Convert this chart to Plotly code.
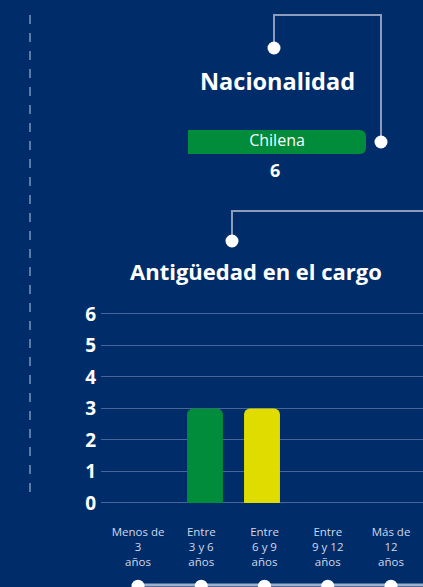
import plotly.graph_objects as go

# ---- data ----
nat_categories = ["Chilena"]
nat_values = [6]

tenure_categories = ["Menos de 3 años", "Entre 3 y 6 años", "Entre 6 y 9 años",
                     "Entre 9 y 12 años", "Más de 12 años"]
tenure_ticktext = ["Menos de<br>3<br>años", "Entre<br>3 y 6<br>años", "Entre<br>6 y 9<br>años",
                   "Entre<br>9 y 12<br>años", "Más de<br>12<br>años"]
tenure_values = [0, 3, 3, 0, 0]
tenure_colors = ["#008C3A", "#008C3A", "#E0DC00", "#008C3A", "#008C3A"]
y_ticks = [0, 1, 2, 3, 4, 5, 6]

W, H = 423, 587
BG = "#002D6A"
LINE = "#8C9DBB"
FONT = "Open Sans"

def px(x):
    return x / W

def py(y):
    return (H - y) / H

fig = go.Figure()

# Nationality pill bar
fig.add_trace(go.Bar(
    x=nat_values, y=nat_categories, orientation="h",
    xaxis="x3", yaxis="y3", marker=dict(color="#008C3A", line=dict(width=0)),
    textposition="none", width=1, hoverinfo="skip",
))
# Nationality label centred on the bar
fig.add_trace(go.Scatter(
    x=[v / 2 for v in nat_values], y=nat_categories, xaxis="x3", yaxis="y3",
    mode="text", text=nat_categories, textposition="middle center",
    textfont=dict(family=FONT, size=16, color="white"), hoverinfo="skip", cliponaxis=False,
))

# Tenure bars
fig.add_trace(go.Bar(
    x=tenure_categories, y=tenure_values, xaxis="x", yaxis="y",
    marker=dict(color=tenure_colors, line=dict(width=0)), width=0.63, hoverinfo="skip",
))

# Bottom timeline dots (carry the category tick labels)
fig.add_trace(go.Scatter(
    x=tenure_categories, y=[0] * len(tenure_categories), xaxis="x2", yaxis="y2",
    mode="markers", marker=dict(color="white", size=13), hoverinfo="skip", cliponaxis=False,
))

shapes = []
# dashed vertical line on the left
shapes.append(dict(type="line", xref="paper", yref="paper", x0=px(30), x1=px(30),
                   y0=py(15), y1=py(499), line=dict(color="#5B7BA8", width=2, dash="dash")))
# top connector
shapes.append(dict(type="path", xref="paper", yref="paper",
                   path=f"M {px(274)},{py(48)} L {px(274)},{py(15)} L {px(381)},{py(15)} L {px(381)},{py(142)}",
                   line=dict(color=LINE, width=2)))
# second connector
shapes.append(dict(type="path", xref="paper", yref="paper",
                   path=f"M {px(232)},{py(241)} L {px(232)},{py(211)} L {px(425)},{py(211)}",
                   line=dict(color=LINE, width=2)))
# bottom timeline line
shapes.append(dict(type="line", xref="paper", yref="paper", x0=px(138), x1=px(425),
                   y0=py(585), y1=py(585), line=dict(color="#9FB0CC", width=3), layer="below"))
# connector dots
for cx, cy in [(274, 48), (381, 142), (232, 241)]:
    r = 6.5
    shapes.append(dict(type="circle", xref="paper", yref="paper",
                       x0=px(cx - r), x1=px(cx + r), y0=py(cy + r), y1=py(cy - r),
                       fillcolor="white", line=dict(width=0)))

annotations = [
    dict(text="<b>Nacionalidad</b>", x=px(277), y=py(81), xref="paper", yref="paper",
         showarrow=False, font=dict(family=FONT, size=23.5, color="white"), xanchor="center", yanchor="middle"),
    dict(text=f"<b>{nat_values[0]}</b>", x=px(275), y=py(170), xref="paper", yref="paper",
         showarrow=False, font=dict(family=FONT, size=18, color="white"), xanchor="center", yanchor="middle"),
    dict(text="<b>Antigüedad en el cargo</b>", x=px(256), y=py(271), xref="paper", yref="paper",
         showarrow=False, font=dict(family=FONT, size=22, color="white"), xanchor="center", yanchor="middle"),
]

# y axis: value 0 at 503 px, value 6 at 314 px
y_lo, y_hi = -0.05, 6.05
unit = (503 - 314) / 6
bot_px = 503 + 0.05 * unit
top_px = 314 - 0.05 * unit

# bar x-axis: categories 1,2 at 205 and 262 px
sp = 57.0
x_lo = 1 + (101 - 205) / sp
x_hi = 1 + (423 - 205) / sp
# label x-axis: category 0 at 138, spacing 63.25
sp2 = 63.25
x2_lo = (101 - 138) / sp2
x2_hi = (423 - 138) / sp2

fig.update_layout(
    width=W, height=H, margin=dict(l=0, r=0, t=0, b=0, autoexpand=False),
    paper_bgcolor=BG, plot_bgcolor="rgba(0,0,0,0)",
    showlegend=False, barcornerradius=6,
    shapes=shapes, annotations=annotations,
    xaxis=dict(domain=[px(101), 1], range=[x_lo, x_hi], showticklabels=False, automargin=False,
               showgrid=False, zeroline=False, showline=False, anchor="y", fixedrange=True),
    yaxis=dict(domain=[py(bot_px), py(top_px)], range=[y_lo, y_hi], tickvals=y_ticks, automargin=False,
               showgrid=True, gridcolor="#4A6698", gridwidth=1, zeroline=False, showline=False,
               tickfont=dict(family=FONT, size=19, color="white", weight="bold"),
               ticklabelstandoff=4, anchor="x"),
    xaxis2=dict(domain=[px(101), 1], range=[x2_lo, x2_hi], anchor="y2", side="top", automargin=False,
                tickvals=tenure_categories, ticktext=tenure_ticktext,
                tickfont=dict(family=FONT, size=11.5, color="#D0D8E8"),
                showgrid=False, zeroline=False, showline=False, ticks=""),
    yaxis2=dict(domain=[0, py(569)], range=[-0.05, 1], visible=False, anchor="x2", automargin=False),
    xaxis3=dict(domain=[px(188), px(366)], range=[0, 6], visible=False, anchor="y3", automargin=False),
    yaxis3=dict(domain=[py(154), py(130)], range=[-0.5, 0.5], visible=False, anchor="x3", automargin=False),
)

fig.write_html("out.html", config={"displayModeBar": False},
               post_script="document.body.style.margin='0';")
